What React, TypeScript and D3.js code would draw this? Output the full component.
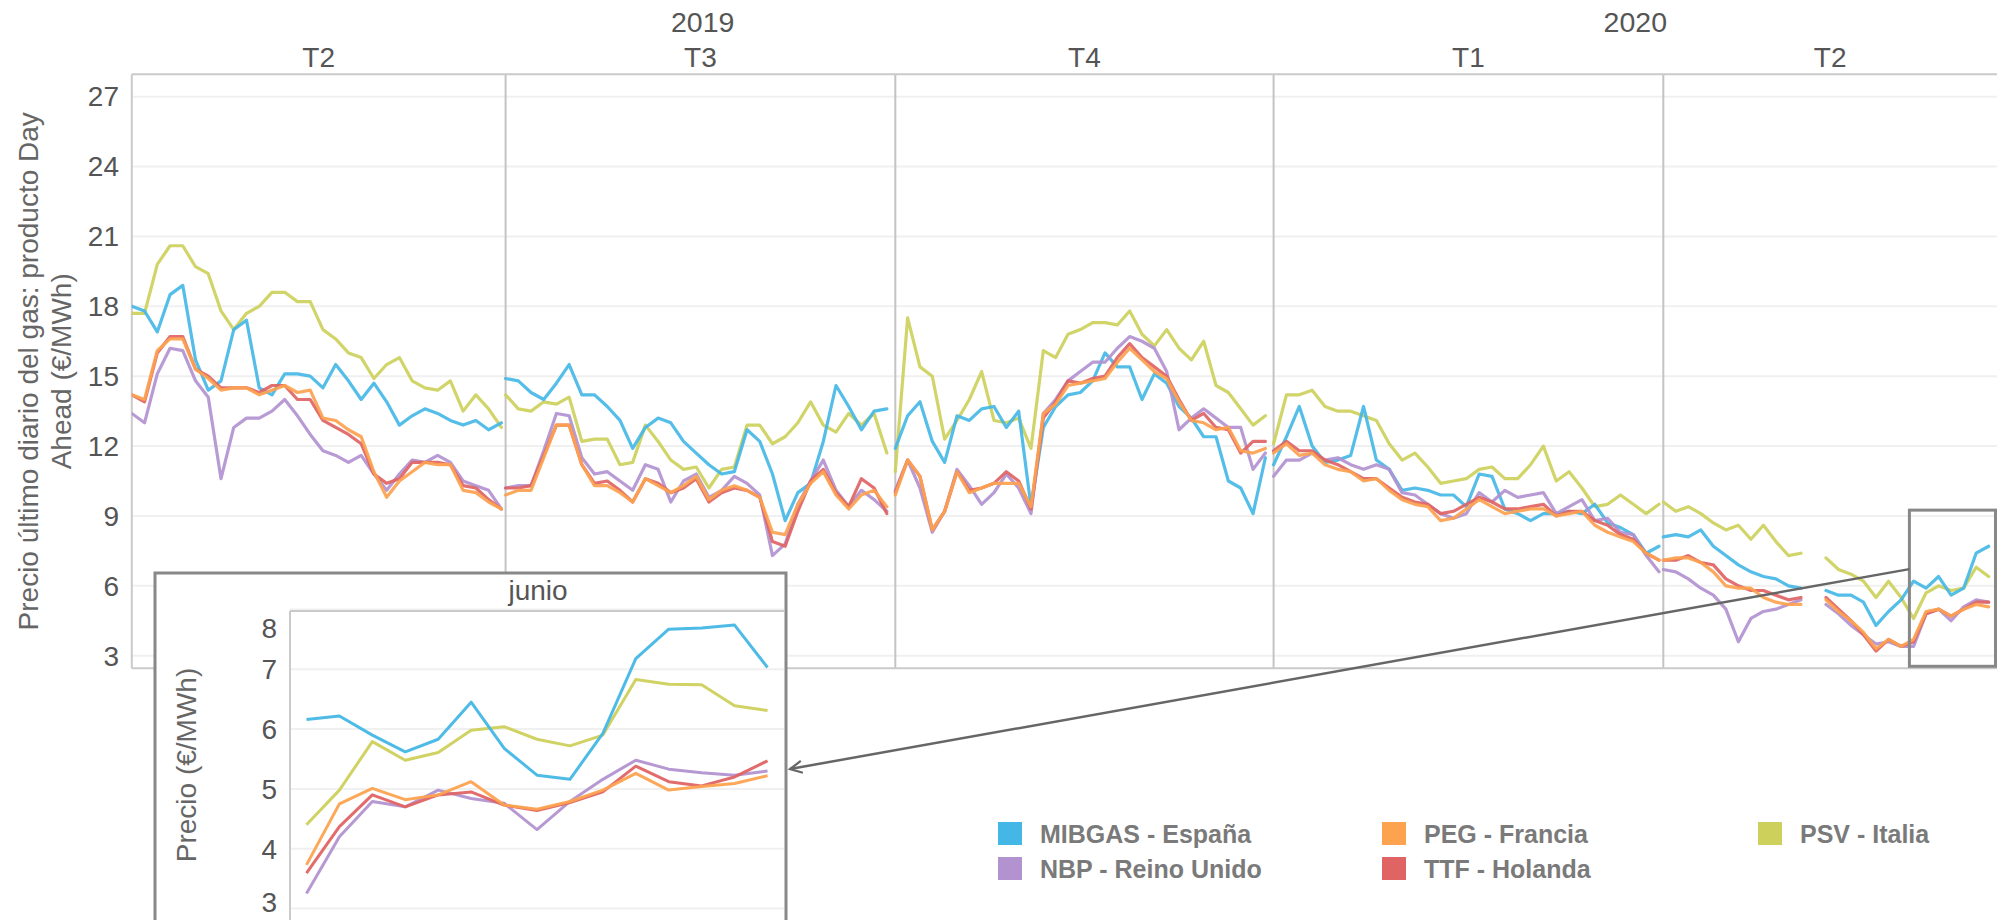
import React from 'react';
import * as d3 from 'd3';

// ---- data (one value every 3 days, per quarter pane) ----

const quarterLabels = ['T2', 'T3', 'T4', 'T1', 'T2'];
const quarterYears = ['2019', '2019', '2019', '2020', '2020'];
const quarterStarts = ['2019-04-04', '2019-07-01', '2019-10-01', '2020-01-01', '2020-04-01'];
const axisEnd = '2020-06-20';
const stepDays = 3;
const yTicks = [3, 6, 9, 12, 15, 18, 21, 24, 27];

const mibgas = [
  [18.0, 17.8, 16.9, 18.5, 18.9, 15.7, 14.4, 14.8, 17.0, 17.4, 14.5, 14.2, 15.1, 15.1, 15.0, 14.5, 15.5, 14.8, 14.0, 14.7, 13.9, 12.9, 13.3, 13.6, 13.4, 13.1, 12.9, 13.1, 12.7, 13.0],
  [14.9, 14.8, 14.3, 14.0, 14.7, 15.5, 14.2, 14.2, 13.7, 13.1, 11.9, 12.8, 13.2, 13.0, 12.2, 11.7, 11.2, 10.8, 10.9, 12.7, 12.2, 10.8, 8.8, 10.0, 10.4, 12.2, 14.6, 13.7, 12.7, 13.5, 13.6],
  [11.9, 13.3, 13.9, 12.2, 11.3, 13.3, 13.1, 13.6, 13.7, 12.8, 13.5, 9.4, 12.8, 13.7, 14.2, 14.3, 14.8, 16.0, 15.4, 15.4, 14.0, 15.1, 14.7, 13.7, 13.2, 12.4, 12.4, 10.5, 10.2, 9.1, 11.5],
  [11.2, 12.4, 13.7, 12.0, 11.3, 11.4, 11.6, 13.7, 11.4, 11.0, 10.1, 10.2, 10.1, 9.9, 9.9, 9.4, 10.8, 10.7, 9.3, 9.1, 8.8, 9.1, 9.1, 9.2, 9.1, 9.5, 8.7, 8.5, 8.2, 7.4, 7.7],
  [8.1, 8.2, 8.1, 8.4, 7.7, 7.3, 6.9, 6.6, 6.4, 6.3, 6.0, 5.9, null, 5.8, 5.6, 5.6, 5.3, 4.3, 4.9, 5.4, 6.2, 5.9, 6.4, 5.6, 5.9, 7.4, 7.7],
];

const nbp = [
  [13.4, 13.0, 15.1, 16.2, 16.1, 14.8, 14.1, 10.6, 12.8, 13.2, 13.2, 13.5, 14.0, 13.3, 12.5, 11.8, 11.6, 11.3, 11.6, 10.8, 10.1, 10.8, 11.4, 11.3, 11.6, 11.3, 10.5, 10.3, 10.1, 9.3],
  [10.2, 10.3, 10.3, 11.8, 13.4, 13.3, 11.5, 10.8, 10.9, 10.5, 10.1, 11.2, 11.0, 9.6, 10.5, 10.8, 9.8, 10.1, 10.7, 10.4, 9.9, 7.3, 7.8, 9.5, 10.5, 11.4, 10.1, 9.4, 10.1, 9.7, 9.2],
  [10.1, 11.4, 10.2, 8.3, 9.2, 11.0, 10.3, 9.5, 10.0, 10.8, 10.2, 9.1, 13.4, 14.0, 14.8, 15.2, 15.6, 15.6, 16.2, 16.7, 16.5, 16.2, 15.2, 12.7, 13.2, 13.6, 13.2, 12.8, 12.8, 11.0, 11.7],
  [10.7, 11.4, 11.4, 11.7, 11.4, 11.5, 11.2, 11.0, 11.2, 11.0, 10.0, 9.9, 9.5, 9.1, 8.9, 9.1, 10.0, 9.6, 10.1, 9.8, 9.9, 10.0, 9.1, 9.4, 9.7, 8.8, 8.9, 8.3, 8.2, 7.3, 6.6],
  [6.7, 6.6, 6.3, 5.9, 5.6, 5.0, 3.6, 4.6, 4.9, 5.0, 5.2, 5.4, null, 5.2, 4.8, 4.3, 3.9, 3.5, 3.6, 3.4, 3.4, 4.8, 5.0, 4.5, 5.1, 5.4, 5.3],
];

const peg = [
  [14.2, 14.0, 16.1, 16.6, 16.6, 15.3, 14.9, 14.4, 14.5, 14.5, 14.2, 14.4, 14.6, 14.3, 14.4, 13.2, 13.1, 12.7, 12.4, 10.9, 9.8, 10.5, 10.9, 11.3, 11.2, 11.2, 10.1, 10.0, 9.6, 9.3],
  [9.9, 10.1, 10.1, 11.5, 12.9, 12.9, 11.2, 10.3, 10.3, 10.0, 9.6, 10.6, 10.3, 10.0, 10.3, 10.7, 9.7, 10.1, 10.3, 10.1, 9.8, 8.3, 8.2, 9.5, 10.4, 10.9, 9.9, 9.3, 9.9, 10.1, 9.4],
  [9.9, 11.4, 10.7, 8.4, 9.2, 10.9, 10.0, 10.2, 10.4, 10.4, 10.4, 9.4, 13.4, 13.8, 14.6, 14.7, 14.8, 14.9, 15.6, 16.2, 15.7, 15.2, 14.9, 13.9, 13.1, 13.0, 12.7, 12.8, 11.8, 11.7, 11.9],
  [11.7, 12.1, 11.6, 11.7, 11.2, 11.0, 10.9, 10.5, 10.6, 10.1, 9.7, 9.5, 9.4, 8.8, 8.9, 9.3, 9.7, 9.4, 9.1, 9.2, 9.3, 9.3, 9.0, 9.1, 9.2, 8.6, 8.3, 8.1, 7.9, 7.4, 7.1],
  [7.1, 7.2, 7.2, 7.0, 6.6, 6.0, 5.9, 5.9, 5.5, 5.3, 5.2, 5.2, null, 5.4, 4.9, 4.5, 4.0, 3.3, 3.7, 3.4, 3.7, 4.9, 5.0, 4.7, 5.0, 5.2, 5.1],
];

const ttf = [
  [14.2, 13.9, 16.0, 16.7, 16.7, 15.3, 15.0, 14.5, 14.5, 14.5, 14.3, 14.6, 14.6, 14.0, 14.0, 13.1, 12.8, 12.5, 12.1, 10.8, 10.4, 10.6, 11.3, 11.3, 11.3, 11.2, 10.3, 10.2, 9.7, 9.3],
  [10.2, 10.2, 10.3, 11.6, 12.9, 12.9, 11.2, 10.4, 10.5, 10.1, 9.6, 10.6, 10.4, 10.0, 10.2, 10.6, 9.6, 10.0, 10.2, 10.1, 9.8, 7.9, 7.7, 9.2, 10.5, 11.0, 10.0, 9.4, 10.6, 10.2, 9.1],
  [10.0, 11.4, 10.7, 8.4, 9.2, 10.9, 10.1, 10.2, 10.4, 10.9, 10.5, 9.3, 13.2, 13.9, 14.8, 14.7, 14.9, 15.0, 15.8, 16.4, 15.8, 15.4, 15.0, 14.0, 13.1, 13.4, 12.8, 12.7, 11.7, 12.2, 12.2],
  [11.8, 12.2, 11.8, 11.8, 11.4, 11.2, 10.9, 10.6, 10.6, 10.2, 9.8, 9.6, 9.5, 9.1, 9.2, 9.5, 9.8, 9.6, 9.3, 9.3, 9.4, 9.5, 9.0, 9.2, 9.2, 8.8, 8.6, 8.2, 8.0, 7.4, 7.1],
  [7.1, 7.1, 7.3, 7.0, 6.9, 6.3, 6.0, 5.8, 5.8, 5.6, 5.4, 5.5, null, 5.5, 5.0, 4.5, 3.9, 3.2, 3.7, 3.4, 3.6, 4.8, 5.0, 4.7, 5.0, 5.3, 5.3],
];

const psv = [
  [17.7, 17.7, 19.8, 20.6, 20.6, 19.7, 19.4, 17.8, 17.0, 17.7, 18.0, 18.6, 18.6, 18.2, 18.2, 17.0, 16.6, 16.0, 15.8, 14.9, 15.5, 15.8, 14.8, 14.5, 14.4, 14.8, 13.5, 14.2, 13.6, 12.8],
  [14.2, 13.6, 13.5, 13.9, 13.8, 14.1, 12.2, 12.3, 12.3, 11.2, 11.3, 12.9, 12.2, 11.4, 11.0, 11.1, 10.2, 11.0, 11.1, 12.9, 12.9, 12.1, 12.4, 13.0, 13.9, 12.9, 12.6, 13.4, 12.9, 13.4, 11.7],
  [10.9, 17.5, 15.4, 15.0, 12.3, 13.1, 14.0, 15.2, 13.1, 13.0, 13.2, 11.9, 16.1, 15.8, 16.8, 17.0, 17.3, 17.3, 17.2, 17.8, 16.8, 16.3, 17.0, 16.2, 15.7, 16.5, 14.6, 14.3, 13.6, 12.9, 13.3],
  [12.1, 14.2, 14.2, 14.4, 13.7, 13.5, 13.5, 13.3, 13.1, 12.1, 11.4, 11.7, 11.1, 10.4, 10.5, 10.6, 11.0, 11.1, 10.6, 10.6, 11.2, 12.0, 10.5, 10.9, 10.2, 9.4, 9.5, 9.9, 9.5, 9.1, 9.5],
  [9.6, 9.2, 9.4, 9.1, 8.7, 8.4, 8.6, 8.0, 8.6, 7.9, 7.3, 7.4, null, 7.2, 6.7, 6.5, 6.2, 5.5, 6.2, 5.5, 4.6, 5.7, 6.0, 5.8, 5.9, 6.8, 6.4],
];

const seriesNames = ['MIBGAS - España', 'NBP - Reino Unido', 'PEG - Francia', 'TTF - Holanda', 'PSV - Italia'];
const seriesColors = ['#45b7e6', '#b293d0', '#fda24f', '#e06464', '#cdd05b'];
const seriesData = [mibgas, nbp, peg, ttf, psv];
const drawOrder = [4, 0, 1, 3, 2];

// inset: June 2020, trading days
const insetTitle = 'junio';
const insetDays = ['1', '2', '3', '4', '5', '8', '9', '10', '11', '12', '15', '16', '17', '18', '19'];
const insetMibgas = [6.16, 6.22, 5.9, 5.62, 5.83, 6.45, 5.68, 5.23, 5.16, 5.93, 7.18, 7.67, 7.69, 7.74, 7.03];
const insetNbp = [3.25, 4.2, 4.79, 4.7, 4.98, 4.84, 4.76, 4.32, 4.79, 5.16, 5.48, 5.33, 5.27, 5.23, 5.3];
const insetPeg = [3.73, 4.75, 5.01, 4.82, 4.9, 5.12, 4.73, 4.66, 4.79, 4.98, 5.26, 4.98, 5.04, 5.09, 5.22];
const insetTtf = [3.59, 4.37, 4.9, 4.7, 4.9, 4.95, 4.73, 4.64, 4.77, 4.95, 5.38, 5.12, 5.05, 5.2, 5.47];
const insetPsv = [4.4, 4.98, 5.79, 5.48, 5.61, 5.98, 6.04, 5.83, 5.72, 5.9, 6.83, 6.75, 6.74, 6.39, 6.31];
const insetData = [insetMibgas, insetNbp, insetPeg, insetTtf, insetPsv];
const insetTicks = [3, 4, 5, 6, 7, 8];
const zoomFrom = '2020-05-30';

// ---- layout ----
const W = 1997;
const H = 920;
const FONT = "'Liberation Sans', Arial, sans-serif";
const paneEdges = [131.8, 505.6, 895.3, 1273.6, 1663.3, 1997];
const plotTop = 74.3;
const plotBottom = 668.3;
const plotLeft = paneEdges[0];

const parse = d3.timeParse('%Y-%m-%d');

const x = d3.scaleTime()
  .domain([...quarterStarts, axisEnd].map((s) => parse(s) as Date))
  .range(paneEdges);
const y = d3.scaleLinear().domain([2.46, 27.96]).range([plotBottom, plotTop]);

const inset = { left: 155, top: 573, right: 786, plotLeft: 290, plotTop: 611 };
const ix = d3.scalePoint().domain(insetDays).range([inset.plotLeft, inset.right - 2]).padding(0.5);
const iy = d3.scaleLinear().domain([2.5, 7.975]).range([938.4, inset.plotTop]);

type Pt = { date: Date; v: number | null };

const mainLine = d3.line<Pt>()
  .defined((d) => d.v != null)
  .x((d) => x(d.date))
  .y((d) => y(d.v as number));

const insetLine = d3.line<[string, number]>()
  .x((d) => ix(d[0]) as number)
  .y((d) => iy(d[1]));

function quarterPoints(values: (number | null)[], q: number): Pt[] {
  const start = parse(quarterStarts[q]) as Date;
  return values.map((v, i) => ({ date: d3.timeDay.offset(start, i * stepDays), v }));
}

export default function App() {
  const years = Array.from(new Set(quarterYears));
  const zoomX0 = x(parse(zoomFrom) as Date);
  const zoomTop = y(9.25);
  const arrowStart: [number, number] = [zoomX0, zoomTop + 59];
  const arrowEnd: [number, number] = [inset.right + 4, 769];

  return (
    <svg width={W} height={H} style={{ position: 'absolute', left: 0, top: 0, background: '#fff' }} fontFamily={FONT}>
      <defs>
        <marker id="chev" markerUnits="userSpaceOnUse" markerWidth={16} markerHeight={16} refX={13} refY={7} orient="auto">
          <path d="M1,1 L13,7 L1,13" fill="none" stroke="#666" strokeWidth={2.2} />
        </marker>
        <clipPath id="plotClip">
          <rect x={plotLeft} y={plotTop} width={W - plotLeft} height={plotBottom - plotTop} />
        </clipPath>
      </defs>

      {/* header: years and quarters */}
      {years.map((yr) => {
        const idx = quarterYears.map((q, i) => (q === yr ? i : -1)).filter((i) => i >= 0);
        const cx = (paneEdges[idx[0]] + paneEdges[idx[idx.length - 1] + 1]) / 2;
        return (
          <text key={yr} x={cx} y={31.5} textAnchor="middle" fontSize={28.5} fill="#555">{yr}</text>
        );
      })}
      {quarterLabels.map((q, i) => (
        <text key={i} x={(paneEdges[i] + paneEdges[i + 1]) / 2} y={66.5} textAnchor="middle" fontSize={28} fill="#555">{q}</text>
      ))}

      {/* gridlines */}
      {yTicks.map((t) => (
        <line key={t} x1={plotLeft} x2={W} y1={y(t)} y2={y(t)} stroke="#f0f0f0" strokeWidth={2} />
      ))}
      {paneEdges.slice(1, -1).map((px, i) => (
        <line key={i} x1={px} x2={px} y1={plotTop} y2={plotBottom} stroke="#c4c4c4" strokeWidth={2} />
      ))}
      <line x1={plotLeft} x2={W} y1={plotTop} y2={plotTop} stroke="#cacaca" strokeWidth={2} />
      <line x1={plotLeft} x2={W} y1={plotBottom} y2={plotBottom} stroke="#cacaca" strokeWidth={2} />
      <line x1={plotLeft} x2={plotLeft} y1={plotTop} y2={plotBottom} stroke="#cacaca" strokeWidth={2} />

      {/* y axis */}
      {yTicks.map((t) => (
        <text key={t} x={119} y={y(t)} dy="0.35em" textAnchor="end" fontSize={28} fill="#555">{t}</text>
      ))}
      <g transform={`translate(38, ${(plotTop + plotBottom) / 2}) rotate(-90)`}>
        <text textAnchor="middle" fontSize={28} fill="#666">Precio último diario del gas: producto Day</text>
      </g>
      <g transform={`translate(71, ${(plotTop + plotBottom) / 2}) rotate(-90)`}>
        <text textAnchor="middle" fontSize={28} fill="#666">Ahead (€/MWh)</text>
      </g>

      {/* series */}
      <g clipPath="url(#plotClip)">
        {drawOrder.map((si) => (
          <g key={si}>
            {seriesData[si].map((vals, q) => (
              <path
                key={q}
                d={mainLine(quarterPoints(vals, q)) || ''}
                fill="none"
                stroke={seriesColors[si]}
                strokeWidth={3.2}
                strokeLinejoin="round"
                strokeLinecap="round"
                opacity={0.92}
              />
            ))}
          </g>
        ))}
      </g>

      {/* zoom box and connector */}
      <rect x={zoomX0} y={zoomTop} width={W - 1.5 - zoomX0} height={plotBottom - 2 - zoomTop} fill="none" stroke="#888" strokeWidth={3} />
      <line x1={arrowStart[0]} y1={arrowStart[1]} x2={arrowEnd[0]} y2={arrowEnd[1]} stroke="#666" strokeWidth={2.5} markerEnd="url(#chev)" />

      {/* inset */}
      <rect x={inset.left} y={inset.top} width={inset.right - inset.left} height={H - inset.top + 20} fill="#fff" stroke="#888" strokeWidth={3} />
      <text x={(inset.plotLeft + inset.right) / 2} y={600} textAnchor="middle" fontSize={28} fill="#555">{insetTitle}</text>
      {insetTicks.map((t) => (
        <line key={t} x1={inset.plotLeft} x2={inset.right - 2} y1={iy(t)} y2={iy(t)} stroke="#f0f0f0" strokeWidth={2} />
      ))}
      <line x1={inset.plotLeft} x2={inset.right - 2} y1={inset.plotTop} y2={inset.plotTop} stroke="#cacaca" strokeWidth={2} />
      <line x1={inset.plotLeft} x2={inset.plotLeft} y1={inset.plotTop} y2={H} stroke="#cacaca" strokeWidth={2} />
      {insetTicks.map((t) => {
        let ty = iy(t);
        if (ty < inset.plotTop + 8) ty = inset.plotTop + 17;
        if (ty > H - 18) ty = H - 18;
        return (
          <text key={t} x={277} y={ty} dy="0.35em" textAnchor="end" fontSize={28} fill="#555">{t}</text>
        );
      })}
      <g transform={`translate(196, 765) rotate(-90)`}>
        <text textAnchor="middle" fontSize={28} fill="#666">Precio (€/MWh)</text>
      </g>
      {drawOrder.map((si) => (
        <path
          key={si}
          d={insetLine(insetDays.map((d, i) => [d, insetData[si][i]] as [string, number])) || ''}
          fill="none"
          stroke={seriesColors[si]}
          strokeWidth={3}
          strokeLinejoin="round"
          opacity={0.95}
        />
      ))}

      {/* legend */}
      {seriesNames.map((name, i) => {
        const col = Math.floor(i / 2);
        const row = i % 2;
        const lx = [998, 1382, 1758][col];
        const ly = [822, 857][row];
        return (
          <g key={name}>
            <rect x={lx} y={ly} width={24} height={23} fill={seriesColors[i]} />
            <text x={lx + 42} y={ly + 11.5} dy="0.36em" fontSize={25} fontWeight="bold" fill="#7a7a7a">{name}</text>
          </g>
        );
      })}
    </svg>
  );
}
